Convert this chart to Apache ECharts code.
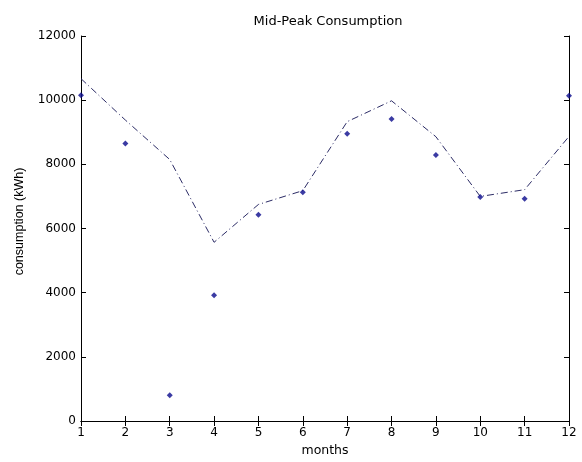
<!DOCTYPE html>
<html><head><meta charset="utf-8">
<script src="https://cdn.jsdelivr.net/npm/echarts@6/dist/echarts.min.js"></script>
<style>html,body{margin:0;padding:0;background:#fff}#c{width:582px;height:462px}</style>
</head><body><div id="c"></div>
<script>
var months = [1,2,3,4,5,6,7,8,9,10,11,12];
var measured = [10150, 8650, 800, 3920, 6430, 7130, 8950, 9410, 8290, 6980, 6930, 10140];
var fitted = [10670, 9380, 8150, 5570, 6750, 7180, 9330, 9980, 8860, 7000, 7210, 8870];
var yTicks = [0, 2000, 4000, 6000, 8000, 10000, 12000];

var font = 'DejaVu Sans, sans-serif';
var chart = echarts.init(document.getElementById('c'));
function pairs(v){ return months.map(function(m,i){ return [m, v[i]]; }); }
var axLine = {show:true, lineStyle:{color:'#000', width:1}};
var tick = {show:true, inside:true, length:5, lineStyle:{color:'#000'}};
chart.setOption({
  animation:false,
  backgroundColor:'#fff',
  title:{text:'Mid-Peak Consumption', left:323, top:10, textAlign:'center',
    textStyle:{fontFamily:font, fontSize:13, fontWeight:'normal', color:'#000'}},
  grid:{left:81, top:36, right:13, bottom:40},
  xAxis:[{type:'value', min:1, max:12, interval:1, position:'bottom',
    name:'months', nameLocation:'middle', nameGap:23,
    nameTextStyle:{fontFamily:font, fontSize:12.5, color:'#000'},
    axisLine:axLine, axisTick:tick, splitLine:{show:false},
    axisLabel:{fontFamily:font, fontSize:12, color:'#000', margin:6}},
   {type:'value', min:1, max:12, interval:1, position:'top',
    axisLine:axLine, axisTick:tick, splitLine:{show:false}, axisLabel:{show:false}}],
  yAxis:[{type:'value', min:yTicks[0], max:yTicks[yTicks.length-1], interval:2000, position:'left',
    name:'consumption (kWh)', nameLocation:'middle', nameGap:55, nameRotate:90,
    nameTextStyle:{fontFamily:'Liberation Sans, Arial, sans-serif', fontSize:12.5, color:'#000', padding:[0,0,0,14]},
    axisLine:axLine, axisTick:tick, splitLine:{show:false},
    axisLabel:{fontFamily:font, fontSize:12, color:'#000', margin:5,
      formatter:function(v){ return String(v); }}},
   {type:'value', min:0, max:12000, interval:2000, position:'right',
    axisLine:axLine, axisTick:tick, splitLine:{show:false}, axisLabel:{show:false}}],
  series:[
    {type:'line', data:pairs(fitted), showSymbol:false, symbol:'none',
     lineStyle:{color:'#2c2c66', width:1, type:[7,3,1,3]}, z:2},
    {type:'scatter', data:pairs(measured), symbol:'diamond', symbolSize:6,
     itemStyle:{color:'#0a0a8c'}, z:3}
  ]
});
</script></body></html>
